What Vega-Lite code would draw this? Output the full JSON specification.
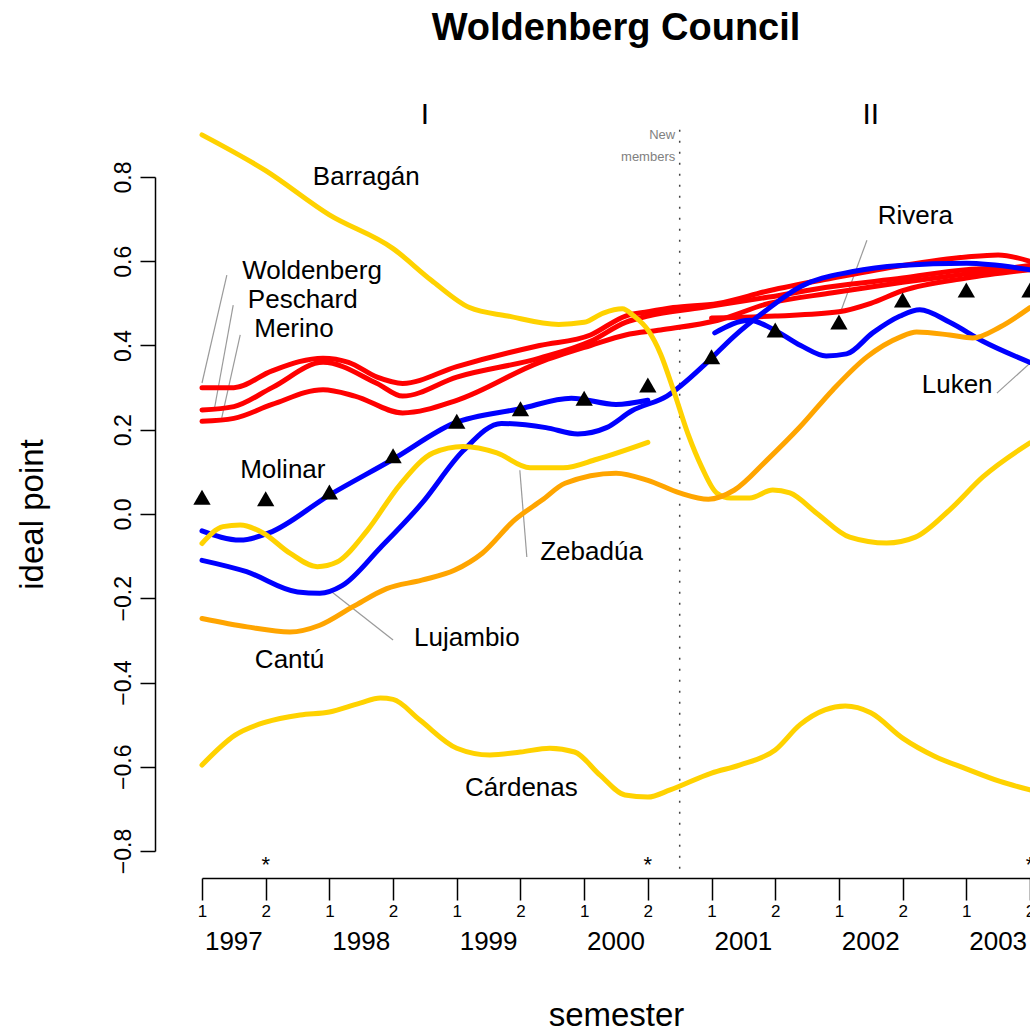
{
  "$schema": "https://vega.github.io/schema/vega-lite/v6.json",
  "autosize": {"type": "none"},
  "width": 828,
  "height": 674,
  "padding": {"left": 202, "top": 177, "right": 0, "bottom": 183},
  "background": "white",
  "config": {
    "font": "Liberation Sans",
    "view": {"stroke": null},
    "axis": {"grid": false, "domainColor": "black", "tickColor": "black", "labelColor": "black", "titleColor": "black", "domainWidth": 1.5, "tickWidth": 1.5, "labelFont": "Liberation Sans", "titleFont": "Liberation Sans", "titleFontWeight": "normal"}
  },
  "title": {"text": "Woldenberg Council", "fontSize": 38, "fontWeight": "bold", "font": "Liberation Sans", "anchor": "middle", "frame": "group", "offset": 52, "color": "black"},
  "datasets": {
    "lines": [
      {"m": "Woldenberg", "p": "PRI", "t": 0, "v": 0.30}, {"m": "Woldenberg", "p": "PRI", "t": 0.5, "v": 0.30}, {"m": "Woldenberg", "p": "PRI", "t": 1.1, "v": 0.34}, {"m": "Woldenberg", "p": "PRI", "t": 1.9, "v": 0.37}, {"m": "Woldenberg", "p": "PRI", "t": 2.3, "v": 0.36}, {"m": "Woldenberg", "p": "PRI", "t": 2.75, "v": 0.325}, {"m": "Woldenberg", "p": "PRI", "t": 3.15, "v": 0.31}, {"m": "Woldenberg", "p": "PRI", "t": 4.0, "v": 0.35}, {"m": "Woldenberg", "p": "PRI", "t": 5.3, "v": 0.40}, {"m": "Woldenberg", "p": "PRI", "t": 6.1, "v": 0.425}, {"m": "Woldenberg", "p": "PRI", "t": 6.65, "v": 0.47}, {"m": "Woldenberg", "p": "PRI", "t": 7.0, "v": 0.48}, {"m": "Woldenberg", "p": "PRI", "t": 7.4, "v": 0.49}, {"m": "Woldenberg", "p": "PRI", "t": 8.1, "v": 0.50}, {"m": "Woldenberg", "p": "PRI", "t": 8.9, "v": 0.53}, {"m": "Woldenberg", "p": "PRI", "t": 9.9, "v": 0.56}, {"m": "Woldenberg", "p": "PRI", "t": 11.0, "v": 0.59}, {"m": "Woldenberg", "p": "PRI", "t": 12.0, "v": 0.61}, {"m": "Woldenberg", "p": "PRI", "t": 12.5, "v": 0.615}, {"m": "Woldenberg", "p": "PRI", "t": 13, "v": 0.60},
      {"m": "Peschard", "p": "PRI", "t": 0, "v": 0.247}, {"m": "Peschard", "p": "PRI", "t": 0.5, "v": 0.255}, {"m": "Peschard", "p": "PRI", "t": 1.1, "v": 0.30}, {"m": "Peschard", "p": "PRI", "t": 1.9, "v": 0.36}, {"m": "Peschard", "p": "PRI", "t": 2.75, "v": 0.31}, {"m": "Peschard", "p": "PRI", "t": 3.15, "v": 0.28}, {"m": "Peschard", "p": "PRI", "t": 4.0, "v": 0.325}, {"m": "Peschard", "p": "PRI", "t": 5.3, "v": 0.37}, {"m": "Peschard", "p": "PRI", "t": 6.1, "v": 0.41}, {"m": "Peschard", "p": "PRI", "t": 6.65, "v": 0.455}, {"m": "Peschard", "p": "PRI", "t": 7.0, "v": 0.47}, {"m": "Peschard", "p": "PRI", "t": 7.85, "v": 0.49}, {"m": "Peschard", "p": "PRI", "t": 8.9, "v": 0.515}, {"m": "Peschard", "p": "PRI", "t": 9.9, "v": 0.54}, {"m": "Peschard", "p": "PRI", "t": 11.0, "v": 0.56}, {"m": "Peschard", "p": "PRI", "t": 12.0, "v": 0.58}, {"m": "Peschard", "p": "PRI", "t": 13, "v": 0.585},
      {"m": "Merino", "p": "PRI", "t": 0, "v": 0.22}, {"m": "Merino", "p": "PRI", "t": 0.5, "v": 0.227}, {"m": "Merino", "p": "PRI", "t": 1.1, "v": 0.26}, {"m": "Merino", "p": "PRI", "t": 1.9, "v": 0.295}, {"m": "Merino", "p": "PRI", "t": 2.4, "v": 0.28}, {"m": "Merino", "p": "PRI", "t": 3.15, "v": 0.24}, {"m": "Merino", "p": "PRI", "t": 4.0, "v": 0.27}, {"m": "Merino", "p": "PRI", "t": 5.3, "v": 0.36}, {"m": "Merino", "p": "PRI", "t": 6.1, "v": 0.40}, {"m": "Merino", "p": "PRI", "t": 6.65, "v": 0.425}, {"m": "Merino", "p": "PRI", "t": 7.2, "v": 0.437}, {"m": "Merino", "p": "PRI", "t": 8.1, "v": 0.46}, {"m": "Merino", "p": "PRI", "t": 8.9, "v": 0.50}, {"m": "Merino", "p": "PRI", "t": 9.9, "v": 0.525}, {"m": "Merino", "p": "PRI", "t": 11.0, "v": 0.55}, {"m": "Merino", "p": "PRI", "t": 12.0, "v": 0.57}, {"m": "Merino", "p": "PRI", "t": 13, "v": 0.59},
      {"m": "Rivera", "p": "PRI", "t": 8, "v": 0.465}, {"m": "Rivera", "p": "PRI", "t": 9, "v": 0.47}, {"m": "Rivera", "p": "PRI", "t": 10, "v": 0.48}, {"m": "Rivera", "p": "PRI", "t": 10.5, "v": 0.50}, {"m": "Rivera", "p": "PRI", "t": 11, "v": 0.53}, {"m": "Rivera", "p": "PRI", "t": 12, "v": 0.56}, {"m": "Rivera", "p": "PRI", "t": 13, "v": 0.58},
      {"m": "Molinar", "p": "PAN", "t": 0, "v": -0.04}, {"m": "Molinar", "p": "PAN", "t": 0.6, "v": -0.062}, {"m": "Molinar", "p": "PAN", "t": 1.05, "v": -0.045}, {"m": "Molinar", "p": "PAN", "t": 2, "v": 0.045}, {"m": "Molinar", "p": "PAN", "t": 3, "v": 0.13}, {"m": "Molinar", "p": "PAN", "t": 3.95, "v": 0.215}, {"m": "Molinar", "p": "PAN", "t": 5, "v": 0.25}, {"m": "Molinar", "p": "PAN", "t": 5.8, "v": 0.275}, {"m": "Molinar", "p": "PAN", "t": 6.5, "v": 0.26}, {"m": "Molinar", "p": "PAN", "t": 7, "v": 0.27},
      {"m": "Lujambio", "p": "PAN", "t": 0, "v": -0.11}, {"m": "Lujambio", "p": "PAN", "t": 0.7, "v": -0.137}, {"m": "Lujambio", "p": "PAN", "t": 1.5, "v": -0.185}, {"m": "Lujambio", "p": "PAN", "t": 1.85, "v": -0.188}, {"m": "Lujambio", "p": "PAN", "t": 2.2, "v": -0.17}, {"m": "Lujambio", "p": "PAN", "t": 2.8, "v": -0.08}, {"m": "Lujambio", "p": "PAN", "t": 3.45, "v": 0.025}, {"m": "Lujambio", "p": "PAN", "t": 4.1, "v": 0.15}, {"m": "Lujambio", "p": "PAN", "t": 4.7, "v": 0.215}, {"m": "Lujambio", "p": "PAN", "t": 5.4, "v": 0.205}, {"m": "Lujambio", "p": "PAN", "t": 5.9, "v": 0.19}, {"m": "Lujambio", "p": "PAN", "t": 6.35, "v": 0.205}, {"m": "Lujambio", "p": "PAN", "t": 6.75, "v": 0.245}, {"m": "Lujambio", "p": "PAN", "t": 7.3, "v": 0.28}, {"m": "Lujambio", "p": "PAN", "t": 7.93, "v": 0.36}, {"m": "Lujambio", "p": "PAN", "t": 8.34, "v": 0.42}, {"m": "Lujambio", "p": "PAN", "t": 8.87, "v": 0.485}, {"m": "Lujambio", "p": "PAN", "t": 9.4, "v": 0.54}, {"m": "Lujambio", "p": "PAN", "t": 10.2, "v": 0.575}, {"m": "Lujambio", "p": "PAN", "t": 10.96, "v": 0.59}, {"m": "Lujambio", "p": "PAN", "t": 12, "v": 0.595}, {"m": "Lujambio", "p": "PAN", "t": 13, "v": 0.58},
      {"m": "Luken", "p": "PAN", "t": 8.05, "v": 0.43}, {"m": "Luken", "p": "PAN", "t": 8.6, "v": 0.46}, {"m": "Luken", "p": "PAN", "t": 8.95, "v": 0.44}, {"m": "Luken", "p": "PAN", "t": 9.4, "v": 0.40}, {"m": "Luken", "p": "PAN", "t": 9.8, "v": 0.375}, {"m": "Luken", "p": "PAN", "t": 10.12, "v": 0.38}, {"m": "Luken", "p": "PAN", "t": 10.53, "v": 0.43}, {"m": "Luken", "p": "PAN", "t": 10.96, "v": 0.47}, {"m": "Luken", "p": "PAN", "t": 11.27, "v": 0.485}, {"m": "Luken", "p": "PAN", "t": 11.74, "v": 0.455}, {"m": "Luken", "p": "PAN", "t": 12.26, "v": 0.41}, {"m": "Luken", "p": "PAN", "t": 13, "v": 0.36},
      {"m": "Barragán", "p": "PRD", "t": 0, "v": 0.90}, {"m": "Barragán", "p": "PRD", "t": 1, "v": 0.815}, {"m": "Barragán", "p": "PRD", "t": 2, "v": 0.71}, {"m": "Barragán", "p": "PRD", "t": 3, "v": 0.63}, {"m": "Barragán", "p": "PRD", "t": 3.6, "v": 0.555}, {"m": "Barragán", "p": "PRD", "t": 4.2, "v": 0.49}, {"m": "Barragán", "p": "PRD", "t": 4.8, "v": 0.47}, {"m": "Barragán", "p": "PRD", "t": 5.6, "v": 0.45}, {"m": "Barragán", "p": "PRD", "t": 6.0, "v": 0.455}, {"m": "Barragán", "p": "PRD", "t": 6.3, "v": 0.477}, {"m": "Barragán", "p": "PRD", "t": 6.6, "v": 0.487}, {"m": "Barragán", "p": "PRD", "t": 6.78, "v": 0.47}, {"m": "Barragán", "p": "PRD", "t": 7.0, "v": 0.437}, {"m": "Barragán", "p": "PRD", "t": 7.2, "v": 0.38}, {"m": "Barragán", "p": "PRD", "t": 7.4, "v": 0.295}, {"m": "Barragán", "p": "PRD", "t": 7.63, "v": 0.19}, {"m": "Barragán", "p": "PRD", "t": 7.85, "v": 0.11}, {"m": "Barragán", "p": "PRD", "t": 8.08, "v": 0.05}, {"m": "Barragán", "p": "PRD", "t": 8.3, "v": 0.038}, {"m": "Barragán", "p": "PRD", "t": 8.6, "v": 0.038}, {"m": "Barragán", "p": "PRD", "t": 8.96, "v": 0.057}, {"m": "Barragán", "p": "PRD", "t": 9.23, "v": 0.05}, {"m": "Barragán", "p": "PRD", "t": 9.65, "v": 0.002}, {"m": "Barragán", "p": "PRD", "t": 10.17, "v": -0.055}, {"m": "Barragán", "p": "PRD", "t": 10.75, "v": -0.069}, {"m": "Barragán", "p": "PRD", "t": 11.2, "v": -0.055}, {"m": "Barragán", "p": "PRD", "t": 11.74, "v": 0.01}, {"m": "Barragán", "p": "PRD", "t": 12.26, "v": 0.088}, {"m": "Barragán", "p": "PRD", "t": 13, "v": 0.169},
      {"m": "Zebadúa", "p": "PRD", "t": 0, "v": -0.07}, {"m": "Zebadúa", "p": "PRD", "t": 0.33, "v": -0.03}, {"m": "Zebadúa", "p": "PRD", "t": 0.6, "v": -0.026}, {"m": "Zebadúa", "p": "PRD", "t": 0.96, "v": -0.045}, {"m": "Zebadúa", "p": "PRD", "t": 1.38, "v": -0.093}, {"m": "Zebadúa", "p": "PRD", "t": 1.81, "v": -0.125}, {"m": "Zebadúa", "p": "PRD", "t": 2.12, "v": -0.114}, {"m": "Zebadúa", "p": "PRD", "t": 2.59, "v": -0.04}, {"m": "Zebadúa", "p": "PRD", "t": 3.11, "v": 0.07}, {"m": "Zebadúa", "p": "PRD", "t": 3.63, "v": 0.145}, {"m": "Zebadúa", "p": "PRD", "t": 4.1, "v": 0.16}, {"m": "Zebadúa", "p": "PRD", "t": 4.63, "v": 0.145}, {"m": "Zebadúa", "p": "PRD", "t": 5.15, "v": 0.11}, {"m": "Zebadúa", "p": "PRD", "t": 5.67, "v": 0.11}, {"m": "Zebadúa", "p": "PRD", "t": 6.2, "v": 0.13}, {"m": "Zebadúa", "p": "PRD", "t": 7.0, "v": 0.17},
      {"m": "Cárdenas", "p": "PRD", "t": 0, "v": -0.596}, {"m": "Cárdenas", "p": "PRD", "t": 0.52, "v": -0.525}, {"m": "Cárdenas", "p": "PRD", "t": 1.0, "v": -0.494}, {"m": "Cárdenas", "p": "PRD", "t": 1.54, "v": -0.477}, {"m": "Cárdenas", "p": "PRD", "t": 2.0, "v": -0.47}, {"m": "Cárdenas", "p": "PRD", "t": 2.48, "v": -0.449}, {"m": "Cárdenas", "p": "PRD", "t": 2.8, "v": -0.437}, {"m": "Cárdenas", "p": "PRD", "t": 3.0, "v": -0.44}, {"m": "Cárdenas", "p": "PRD", "t": 3.42, "v": -0.489}, {"m": "Cárdenas", "p": "PRD", "t": 4.0, "v": -0.556}, {"m": "Cárdenas", "p": "PRD", "t": 4.52, "v": -0.572}, {"m": "Cárdenas", "p": "PRD", "t": 5.0, "v": -0.565}, {"m": "Cárdenas", "p": "PRD", "t": 5.46, "v": -0.556}, {"m": "Cárdenas", "p": "PRD", "t": 5.85, "v": -0.565}, {"m": "Cárdenas", "p": "PRD", "t": 6.25, "v": -0.62}, {"m": "Cárdenas", "p": "PRD", "t": 6.64, "v": -0.667}, {"m": "Cárdenas", "p": "PRD", "t": 7.0, "v": -0.672}, {"m": "Cárdenas", "p": "PRD", "t": 7.35, "v": -0.655}, {"m": "Cárdenas", "p": "PRD", "t": 8.0, "v": -0.615}, {"m": "Cárdenas", "p": "PRD", "t": 8.44, "v": -0.596}, {"m": "Cárdenas", "p": "PRD", "t": 9.0, "v": -0.56}, {"m": "Cárdenas", "p": "PRD", "t": 9.39, "v": -0.50}, {"m": "Cárdenas", "p": "PRD", "t": 9.78, "v": -0.465}, {"m": "Cárdenas", "p": "PRD", "t": 10.1, "v": -0.456}, {"m": "Cárdenas", "p": "PRD", "t": 10.5, "v": -0.472}, {"m": "Cárdenas", "p": "PRD", "t": 11.0, "v": -0.532}, {"m": "Cárdenas", "p": "PRD", "t": 11.5, "v": -0.575}, {"m": "Cárdenas", "p": "PRD", "t": 12.0, "v": -0.605}, {"m": "Cárdenas", "p": "PRD", "t": 12.53, "v": -0.635}, {"m": "Cárdenas", "p": "PRD", "t": 13, "v": -0.655},
      {"m": "Cantú", "p": "PT", "t": 0, "v": -0.248}, {"m": "Cantú", "p": "PT", "t": 0.71, "v": -0.268}, {"m": "Cantú", "p": "PT", "t": 1.38, "v": -0.28}, {"m": "Cantú", "p": "PT", "t": 1.85, "v": -0.264}, {"m": "Cantú", "p": "PT", "t": 2.37, "v": -0.22}, {"m": "Cantú", "p": "PT", "t": 2.9, "v": -0.177}, {"m": "Cantú", "p": "PT", "t": 3.45, "v": -0.157}, {"m": "Cantú", "p": "PT", "t": 3.97, "v": -0.133}, {"m": "Cantú", "p": "PT", "t": 4.4, "v": -0.093}, {"m": "Cantú", "p": "PT", "t": 4.91, "v": -0.014}, {"m": "Cantú", "p": "PT", "t": 5.34, "v": 0.033}, {"m": "Cantú", "p": "PT", "t": 5.7, "v": 0.073}, {"m": "Cantú", "p": "PT", "t": 6.5, "v": 0.097}, {"m": "Cantú", "p": "PT", "t": 7.0, "v": 0.08}, {"m": "Cantú", "p": "PT", "t": 7.5, "v": 0.05}, {"m": "Cantú", "p": "PT", "t": 7.95, "v": 0.035}, {"m": "Cantú", "p": "PT", "t": 8.36, "v": 0.057}, {"m": "Cantú", "p": "PT", "t": 8.87, "v": 0.128}, {"m": "Cantú", "p": "PT", "t": 9.39, "v": 0.207}, {"m": "Cantú", "p": "PT", "t": 9.9, "v": 0.294}, {"m": "Cantú", "p": "PT", "t": 10.44, "v": 0.373}, {"m": "Cantú", "p": "PT", "t": 10.96, "v": 0.42}, {"m": "Cantú", "p": "PT", "t": 11.22, "v": 0.432}, {"m": "Cantú", "p": "PT", "t": 11.74, "v": 0.425}, {"m": "Cantú", "p": "PT", "t": 12.1, "v": 0.418}, {"m": "Cantú", "p": "PT", "t": 12.53, "v": 0.444}, {"m": "Cantú", "p": "PT", "t": 13, "v": 0.49}
    ],
    "tri": [
      {"t": 0, "v": 0.04}, {"t": 1, "v": 0.036}, {"t": 2, "v": 0.052}, {"t": 3, "v": 0.138}, {"t": 4, "v": 0.22}, {"t": 5, "v": 0.25}, {"t": 6, "v": 0.275}, {"t": 7, "v": 0.306}, {"t": 8, "v": 0.373}, {"t": 9, "v": 0.437}, {"t": 10, "v": 0.456}, {"t": 11, "v": 0.508}, {"t": 12, "v": 0.532}, {"t": 13, "v": 0.532}
    ],
    "labels": [
      {"label": "Woldenberg", "t": 0.63, "v": 0.577}, {"label": "Peschard", "t": 0.72, "v": 0.508}, {"label": "Merino", "t": 0.82, "v": 0.439}, {"label": "Barragán", "t": 1.74, "v": 0.80}, {"label": "Molinar", "t": 0.6, "v": 0.104}, {"label": "Zebadúa", "t": 5.31, "v": -0.09}, {"label": "Lujambio", "t": 3.33, "v": -0.294}, {"label": "Cantú", "t": 0.83, "v": -0.347}, {"label": "Cárdenas", "t": 4.13, "v": -0.65}, {"label": "Rivera", "t": 10.61, "v": 0.707}, {"label": "Luken", "t": 11.3, "v": 0.306}
    ],
    "leaders": [
      {"t": 0.39, "v": 0.567, "t2": 0, "v2": 0.311}, {"t": 0.49, "v": 0.496, "t2": 0.2, "v2": 0.254}, {"t": 0.6, "v": 0.425, "t2": 0.31, "v2": 0.228}, {"t": 4.99, "v": 0.104, "t2": 5.1, "v2": -0.102}, {"t": 2.04, "v": -0.185, "t2": 3.0, "v2": -0.299}, {"t": 10.44, "v": 0.65, "t2": 10.02, "v2": 0.477}, {"t": 12.48, "v": 0.287, "t2": 13, "v2": 0.358}
    ],
    "years": [
      {"year": "1997", "t": 0.5}, {"year": "1998", "t": 2.5}, {"year": "1999", "t": 4.5}, {"year": "2000", "t": 6.5}, {"year": "2001", "t": 8.5}, {"year": "2002", "t": 10.5}, {"year": "2003", "t": 12.5}
    ],
    "stars": [{"t": 1}, {"t": 7}, {"t": 13}],
    "periods": [{"label": "I", "t": 3.5}, {"label": "II", "t": 10.5}],
    "note": [{"label": "New", "v": 0.90}, {"label": "members", "v": 0.848}],
    "divider": [{"t": 7.5, "v": 0.912, "v2": -0.857}]
  },
  "layer": [
    {
      "data": {"name": "divider"},
      "mark": {"type": "rule", "strokeDash": [2, 9], "color": "#444", "strokeWidth": 1.5},
      "encoding": {
        "x": {"field": "t", "type": "quantitative", "scale": {"domain": [0, 13], "nice": false, "zero": false},
          "axis": {"orient": "bottom", "offset": 27, "values": [0,1,2,3,4,5,6,7,8,9,10,11,12,13], "labelExpr": "datum.value % 2 == 0 ? '1' : '2'", "tickSize": 22, "labelFontSize": 17, "labelPadding": 3, "labelFlush": false, "labelOverlap": false, "title": "semester", "titleFontSize": 33, "titlePadding": 80}},
        "y": {"field": "v", "type": "quantitative", "scale": {"domain": [-0.8, 0.8], "nice": false, "zero": false},
          "axis": {"orient": "left", "offset": 47, "values": [-0.8,-0.6,-0.4,-0.2,0,0.2,0.4,0.6,0.8], "format": ".1f", "labelAngle": 270, "labelAlign": "center", "labelBaseline": "bottom", "tickSize": 15, "labelFontSize": 23, "labelPadding": 5, "labelFlush": false, "labelOverlap": false, "title": "ideal point", "titleFontSize": 33, "titlePadding": 63}},
        "y2": {"field": "v2"}
      }
    },
    {
      "data": {"name": "leaders"},
      "mark": {"type": "rule", "color": "#9a9a9a", "strokeWidth": 1.2},
      "encoding": {
        "x": {"field": "t", "type": "quantitative"},
        "y": {"field": "v", "type": "quantitative"},
        "x2": {"field": "t2"},
        "y2": {"field": "v2"}
      }
    },
    {
      "data": {"name": "lines"},
      "mark": {"type": "line", "strokeWidth": 5, "interpolate": "monotone", "strokeCap": "round"},
      "encoding": {
        "x": {"field": "t", "type": "quantitative"},
        "y": {"field": "v", "type": "quantitative"},
        "color": {"field": "p", "type": "nominal", "scale": {"domain": ["PRI", "PAN", "PRD", "PT"], "range": ["#FF0000", "#0000FF", "#FFD200", "#FFA500"]}, "legend": null},
        "detail": {"field": "m", "type": "nominal"}
      }
    },
    {
      "data": {"name": "tri"},
      "mark": {"type": "point", "shape": "triangle-up", "filled": true, "color": "black", "size": 300, "opacity": 1},
      "encoding": {
        "x": {"field": "t", "type": "quantitative"},
        "y": {"field": "v", "type": "quantitative"}
      }
    },
    {
      "data": {"name": "labels"},
      "mark": {"type": "text", "align": "left", "baseline": "middle", "fontSize": 26, "color": "black"},
      "encoding": {
        "x": {"field": "t", "type": "quantitative"},
        "y": {"field": "v", "type": "quantitative"},
        "text": {"field": "label"}
      }
    },
    {
      "data": {"name": "years"},
      "transform": [{"calculate": "-1.016", "as": "v"}],
      "mark": {"type": "text", "align": "center", "baseline": "middle", "fontSize": 26, "color": "black"},
      "encoding": {
        "x": {"field": "t", "type": "quantitative"},
        "y": {"field": "v", "type": "quantitative"},
        "text": {"field": "year"}
      }
    },
    {
      "data": {"name": "stars"},
      "transform": [{"calculate": "-0.85", "as": "v"}],
      "mark": {"type": "text", "align": "center", "baseline": "alphabetic", "fontSize": 22, "color": "black", "text": "*"},
      "encoding": {
        "x": {"field": "t", "type": "quantitative"},
        "y": {"field": "v", "type": "quantitative"}
      }
    },
    {
      "data": {"name": "periods"},
      "transform": [{"calculate": "0.947", "as": "v"}],
      "mark": {"type": "text", "align": "center", "baseline": "middle", "fontSize": 30, "color": "black"},
      "encoding": {
        "x": {"field": "t", "type": "quantitative"},
        "y": {"field": "v", "type": "quantitative"},
        "text": {"field": "label"}
      }
    },
    {
      "data": {"name": "note"},
      "transform": [{"calculate": "7.43", "as": "t"}],
      "mark": {"type": "text", "align": "right", "baseline": "middle", "fontSize": 13, "color": "#808080"},
      "encoding": {
        "x": {"field": "t", "type": "quantitative"},
        "y": {"field": "v", "type": "quantitative"},
        "text": {"field": "label"}
      }
    }
  ]
}
